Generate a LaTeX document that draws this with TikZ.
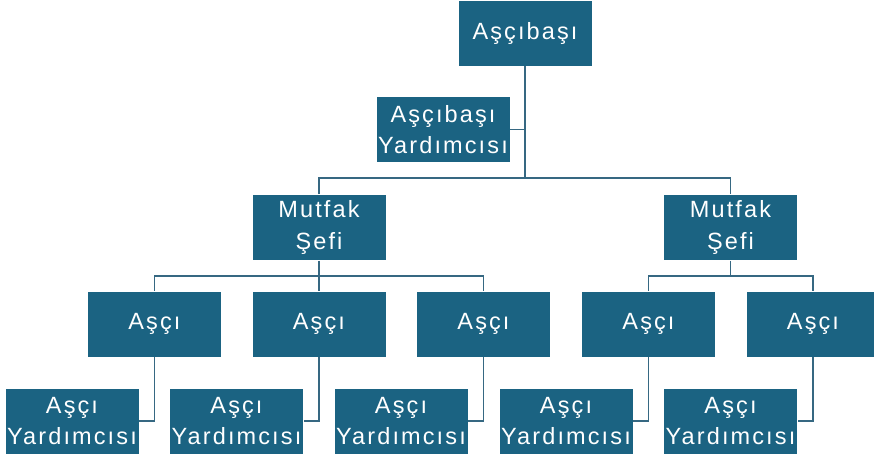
\documentclass[tikz,border=0pt]{standalone}
\usepackage{fontspec}
\setmainfont{Liberation Sans}[LetterSpace=9]
\definecolor{boxc}{HTML}{1B6382}
\definecolor{linec}{HTML}{366882}
\begin{document}
\begin{tikzpicture}[x=1pt,y=-1pt,
  box/.style={rectangle,fill=boxc,draw=white,line width=0.8pt,text=white,
    minimum width=134pt,minimum height=66pt,inner sep=0pt,align=center,
    font=\fontsize{23.5}{31.6}\selectfont},
  conn/.style={draw=linec,line width=1.7pt}]
\useasboundingbox (0,0) rectangle (874,457);
\begin{scope}
\clip (0,0) rectangle (874,457);
\node[box] (top) at (525,33) {Aşçıbaşı};
\node[box] (asst) at (443,129.5) {Aşçıbaşı\\Yardımcısı};
\node[box] (mL) at (319,227.5) {Mutfak\\Şefi};
\node[box] (mR) at (730.5,227.5) {Mutfak\\Şefi};
\node[box] (a1) at (154.5,324) {Aşçı};
\node[box] (a2) at (319,324) {Aşçı};
\node[box] (a3) at (483.5,324) {Aşçı};
\node[box] (a4) at (648.5,324) {Aşçı};
\node[box] (a5) at (813,324) {Aşçı};
\node[box] (y1) at (72,421) {Aşçı\\Yardımcısı};
\node[box] (y2) at (236.5,421) {Aşçı\\Yardımcısı};
\node[box] (y3) at (401,421) {Aşçı\\Yardımcısı};
\node[box] (y4) at (566,421) {Aşçı\\Yardımcısı};
\node[box] (y5) at (730.5,421) {Aşçı\\Yardımcısı};
\coordinate (j0) at (525,178);
\coordinate (j1) at (319,276);
\coordinate (j2) at (730.5,276);
\draw[conn] (top.south) -- (j0);
\draw[conn] (asst.east) -- (asst.east -| top.south);
\draw[conn] (mL.north) |- (j0) -| (mR.north);
\draw[conn] (mL.south) -- (a2.north);
\draw[conn] (a1.north) |- (j1) -| (a3.north);
\draw[conn] (mR.south) -- (j2);
\draw[conn] (a4.north) |- (j2) -| (a5.north);
\draw[conn] (a1.south) |- (y1.east);
\draw[conn] (a2.south) |- (y2.east);
\draw[conn] (a3.south) |- (y3.east);
\draw[conn] (a4.south) |- (y4.east);
\draw[conn] (a5.south) |- (y5.east);
\end{scope}
\end{tikzpicture}
\end{document}
